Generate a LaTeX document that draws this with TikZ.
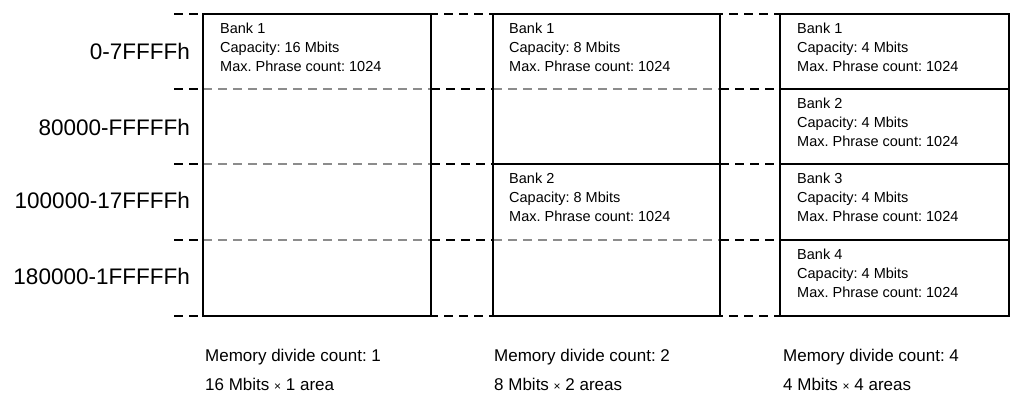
\documentclass[tikz,border=0pt]{standalone}
\usepackage{fontspec}
\setmainfont{Liberation Sans}
\usepackage{tikz}
\frenchspacing
\tikzset{
  mmbox/.style={line width=1.5pt, draw=black},
  mmsep/.style={line width=2.2pt, draw=black, dash pattern=on 9pt off 6pt},
  mmgray/.style={line width=1.6pt, draw=black!45, dash pattern=on 9pt off 6pt},
  mmbank/.style={anchor=north west, inner sep=0pt, align=left, font=\fontsize{14.5}{19}\selectfont},
  mmaddr/.style={anchor=east, inner sep=0pt, font=\fontsize{22.5}{26}\selectfont},
  mmnote/.style={anchor=north west, inner sep=0pt, align=left, font=\fontsize{17}{29}\selectfont},
}
\newcommand{\mmtimes}{{\fontsize{12}{12}\selectfont ×}}

\begin{document}
\begin{tikzpicture}[x=1pt,y=-1pt]
\useasboundingbox (0,0) rectangle (1018,397);
% row borders
\draw[mmsep] (174,14) -- (1009,14);
\draw[mmsep] (174,316) -- (1009,316);
\foreach \yy in {89,164,240} {
  \draw[mmsep] (174,\yy) -- (203,\yy);
  \draw[mmsep] (431,\yy) -- (493,\yy);
  \draw[mmsep] (720,\yy) -- (780,\yy);
  \draw[mmgray] (203,\yy) -- (431,\yy);
  \draw[mmbox] (780,\yy) -- (1009,\yy);
}
\draw[mmgray] (493,89) -- (720,89);
\draw[mmbox] (493,164) -- (720,164);
\draw[mmgray] (493,240) -- (720,240);
% areas
\draw[mmbox] (203,14) rectangle (431,316);
\draw[mmbox] (493,14) rectangle (720,316);
\draw[mmbox] (780,14) rectangle (1009,316);
% address ranges
\node[mmaddr] (ad1) at (190,51) {0-7FFFFh};
\node[mmaddr] (ad2) at (190,127) {80000-FFFFFh};
\node[mmaddr] (ad3) at (190,200) {100000-17FFFFh};
\node[mmaddr] (ad4) at (190,276) {180000-1FFFFFh};
% banks
\node[mmbank] (d1b1) at (220,22.5) {Bank 1\\Capacity: 16 Mbits\\Max. Phrase count: 1024};
\node[mmbank] (d2b1) at (509,22.5) {Bank 1\\Capacity: 8 Mbits\\Max. Phrase count: 1024};
\node[mmbank] (d2b2) at (509,172.5) {Bank 2\\Capacity: 8 Mbits\\Max. Phrase count: 1024};
\node[mmbank] (d4b1) at (797,22.5) {Bank 1\\Capacity: 4 Mbits\\Max. Phrase count: 1024};
\node[mmbank] (d4b2) at (797,97.5) {Bank 2\\Capacity: 4 Mbits\\Max. Phrase count: 1024};
\node[mmbank] (d4b3) at (797,172.5) {Bank 3\\Capacity: 4 Mbits\\Max. Phrase count: 1024};
\node[mmbank] (d4b4) at (797,248.5) {Bank 4\\Capacity: 4 Mbits\\Max. Phrase count: 1024};
% notes
\node[mmnote] (n1) at (205,349) {Memory divide count: 1\\16 Mbits \mmtimes{} 1 area};
\node[mmnote] (n2) at (494,349) {Memory divide count: 2\\8 Mbits \mmtimes{} 2 areas};
\node[mmnote] (n4) at (783,349) {Memory divide count: 4\\4 Mbits \mmtimes{} 4 areas};
\end{tikzpicture}
\end{document}
